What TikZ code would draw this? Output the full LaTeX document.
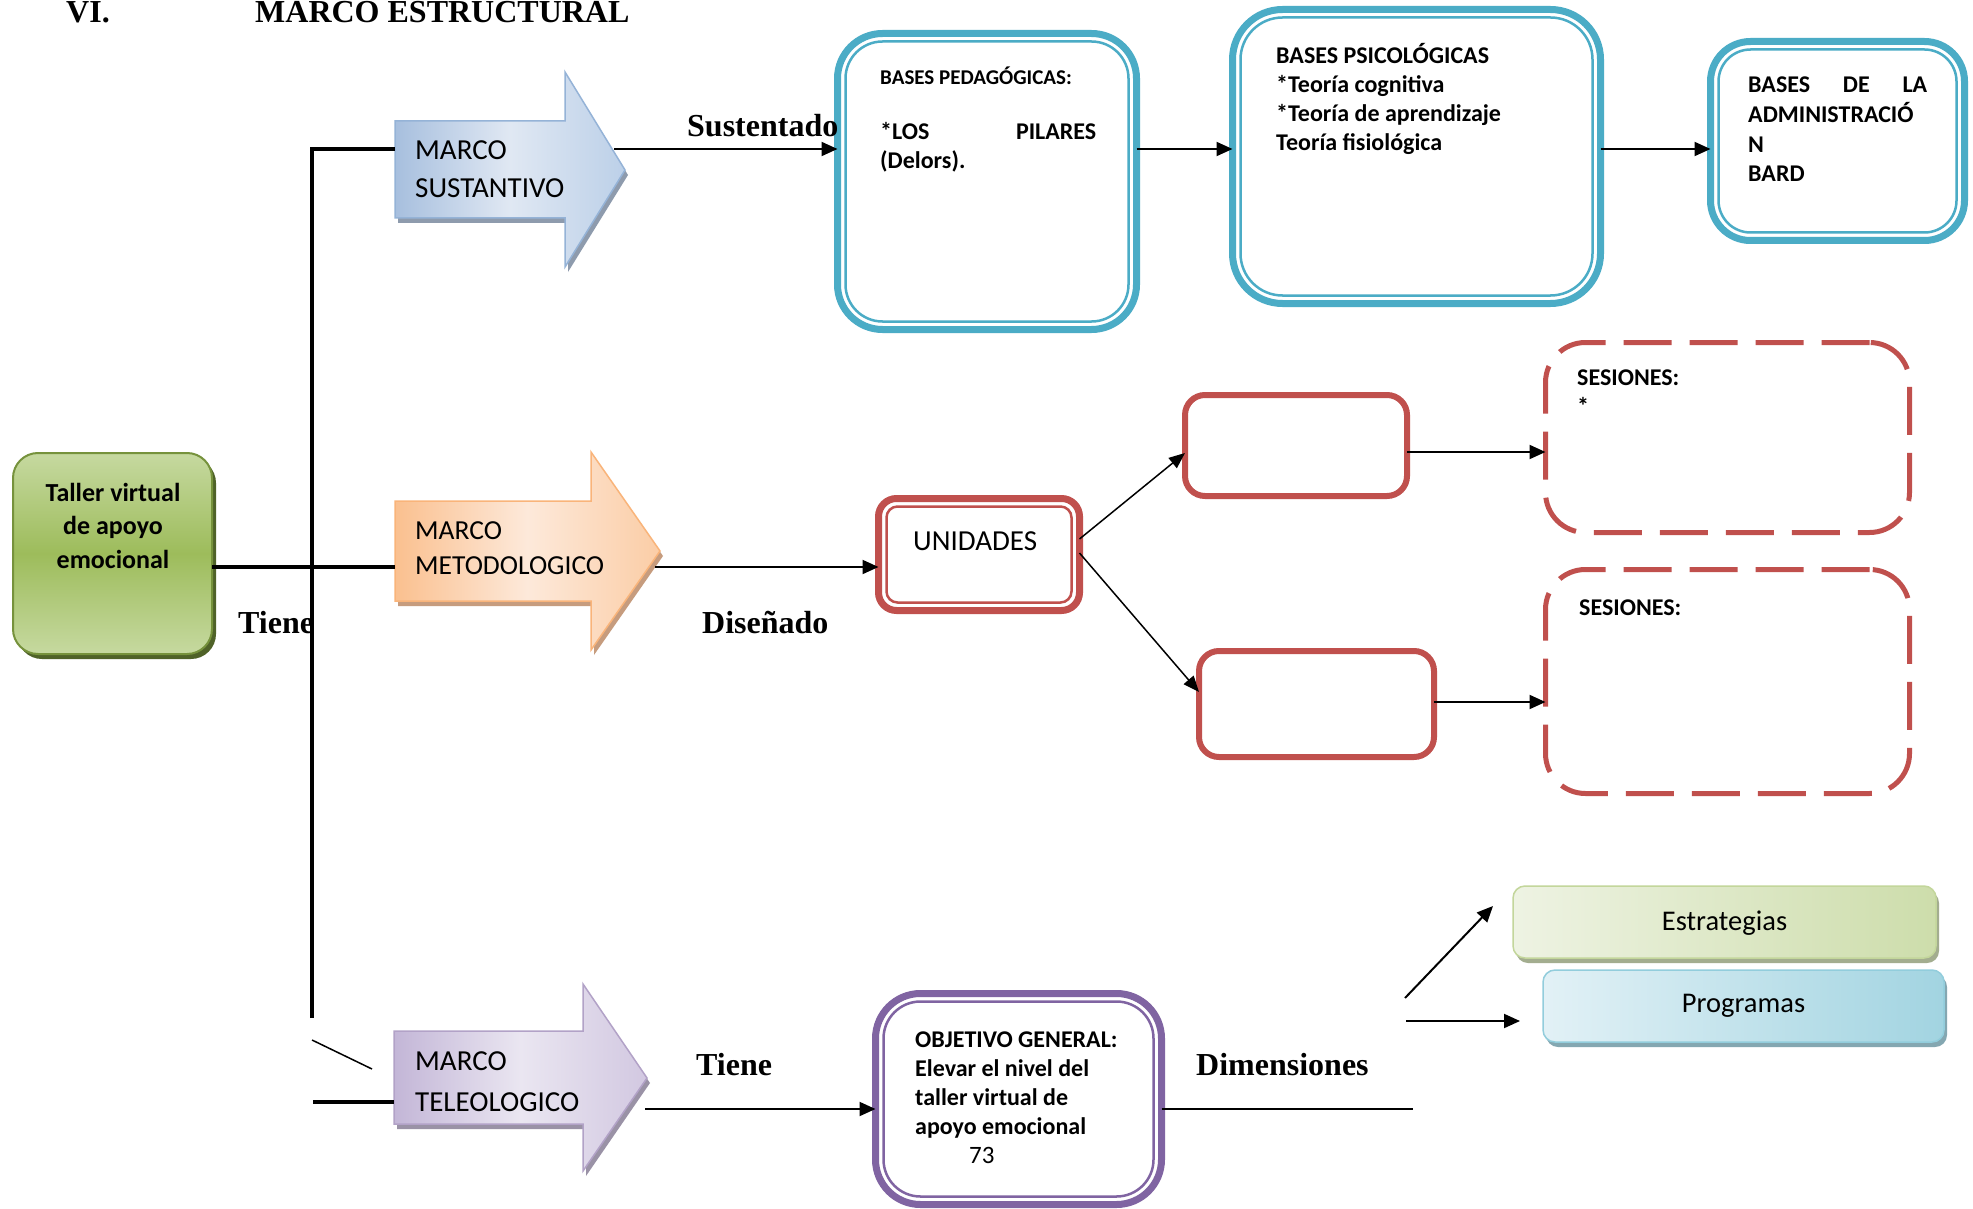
\documentclass[tikz,border=0pt]{standalone}
\usepackage{fontspec}
\setmainfont{Carlito}
\newfontfamily\tnr{Liberation Serif}
\usetikzlibrary{arrows.meta,shadows}
\definecolor{cTeal}{HTML}{4BACC6}
\definecolor{cRed}{HTML}{C0504D}
\definecolor{cPurp}{HTML}{8064A2}
\definecolor{bDark}{HTML}{A7BFDE}
\definecolor{bMid}{HTML}{BCD0E8}
\definecolor{bLight}{HTML}{E0E8F3}
\definecolor{bEdge}{HTML}{95B3D7}
\definecolor{bShad}{HTML}{8E9BAD}
\definecolor{oDark}{HTML}{FAC08F}
\definecolor{oMid}{HTML}{FBCDA6}
\definecolor{oLight}{HTML}{FDE9DA}
\definecolor{oEdge}{HTML}{F9B47A}
\definecolor{oShad}{HTML}{C69C7E}
\definecolor{pDark}{HTML}{C3B6D7}
\definecolor{pMid}{HTML}{D2C8E1}
\definecolor{pLight}{HTML}{EAE6F1}
\definecolor{pEdge}{HTML}{B2A2C7}
\definecolor{pShad}{HTML}{9A92A6}
\definecolor{gTop}{HTML}{C6D9A0}
\definecolor{gMid}{HTML}{9DBC5B}
\definecolor{gEdge}{HTML}{76923C}
\definecolor{gShad}{HTML}{4F6228}
\definecolor{eL}{HTML}{EEF3E3}
\definecolor{eR}{HTML}{CDDDAB}
\definecolor{eEdge}{HTML}{C3D69B}
\definecolor{eShad}{HTML}{A3AD8F}
\definecolor{prL}{HTML}{E2F1F6}
\definecolor{prR}{HTML}{A2D4E1}
\definecolor{prEdge}{HTML}{92CDDC}
\definecolor{prShad}{HTML}{84A7B1}
\newcommand\TxtLines[2]{\vtop{\baselineskip=#1\relax\lineskip=0pt\lineskiplimit=-100pt #2}}
\newcommand\CenLine[1]{\hbox to 0pt{\hss#1\hss}}
\tikzset{
  thickln/.style={line width=4.5pt},
  conn/.style={line width=2pt,-{Triangle[length=16pt,width=14pt]}},
  thinconn/.style={line width=1.5pt,-{Triangle[length=16pt,width=13pt]}},
  lbl/.style={font=\tnr\bfseries\fontsize{32}{38}\selectfont, anchor=base west, inner sep=0pt},
  boxtxt/.style={font=\bfseries\fontsize{24}{29}\selectfont, anchor=base west, inner sep=0pt},
  arrtxt/.style={font=\fontsize{29}{35}\selectfont, anchor=base west, inner sep=0pt},
  dblbox/.style={draw=#1, line width=7pt, inner sep=0pt, outer sep=0pt, fill=white},
  redbox/.style={draw=cRed, line width=6pt, inner sep=0pt, outer sep=0pt, rounded corners=20pt},
  sesbox/.style={draw=cRed, line width=5pt, dash pattern=on 48pt off 18pt, inner sep=0pt, outer sep=0pt, rounded corners=40pt},
  innerln/.style={draw=#1, line width=2.5pt},
}
\begin{document}
\begin{tikzpicture}[x=1pt,y=-1pt]
\useasboundingbox (0,0) rectangle (1973,1209);
\fill[white] (0,0) rectangle (1973,1209);

% title
\node[lbl] (vi) at (66,23) {VI.};
\node[lbl] (title) at (255,23) {MARCO ESTRUCTURAL};

% ---- arrow shapes
\path[draw=bEdge, line width=1.5pt, left color=bDark, right color=bMid, middle color=bLight,
  drop shadow={shadow xshift=3pt, shadow yshift=-5pt, fill=bShad, opacity=1}]
  (395,121) -- (565,121) -- (565,72) -- (625,170) -- (565,267) -- (565,218) -- (395,218) -- cycle;
\node[arrtxt] (sust) at (415,160) {\TxtLines{38pt}{\hbox{MARCO}\hbox{SUSTANTIVO}}};

\path[draw=oEdge, line width=1.5pt, left color=oDark, right color=oMid, middle color=oLight,
  drop shadow={shadow xshift=3pt, shadow yshift=-5pt, fill=oShad, opacity=1}]
  (395,501) -- (591,501) -- (591,452) -- (660,551) -- (591,650) -- (591,601) -- (395,601) -- cycle;
\node[arrtxt, font=\fontsize{27.5}{35}\selectfont] (meto) at (415,539) {\TxtLines{35pt}{\hbox{MARCO}\hbox{METODOLOGICO}}};

\path[draw=pEdge, line width=1.5pt, left color=pDark, right color=pMid, middle color=pLight,
  drop shadow={shadow xshift=3pt, shadow yshift=-5pt, fill=pShad, opacity=1}]
  (394,1031) -- (583,1031) -- (583,984) -- (647,1078) -- (583,1171) -- (583,1124) -- (394,1124) -- cycle;
\node[arrtxt] (tele) at (415,1070) {\TxtLines{41pt}{\hbox{MARCO}\hbox{TELEOLOGICO}}};

\coordinate (sustL) at (395,149);
\coordinate (sustR) at (614,149);
\coordinate (metL) at (395,567);
\coordinate (metR) at (655,567);
\coordinate (teleS) at (313,1102);
\coordinate (teleL) at (394,1102);
\coordinate (teleR) at (645,1109);
\coordinate (vbot) at (312,1018);
\coordinate (diagA) at (312,1040);
\coordinate (diagB) at (372,1069);

% ---- green start box
\node[draw=gEdge, line width=2pt, rounded corners=25pt, minimum width=199pt, minimum height=201pt,
  inner sep=0pt, outer sep=0pt, top color=gTop, bottom color=gTop, middle color=gMid,
  drop shadow={shadow xshift=4pt, shadow yshift=-5pt, fill=gShad, opacity=1}] (taller) at (112.5,553.5) {};
\node[font=\bfseries\fontsize{26}{33}\selectfont, anchor=base, inner sep=0pt] (tallerT) at (113,501)
  {\TxtLines{33.5pt}{\CenLine{Taller virtual}\CenLine{de apoyo}\CenLine{emocional}}};

% ---- thick tree lines
\draw[thickln] (vbot) |- (sustL);
\draw[thickln] (taller.east |- metL) -- (metL);
\draw[thickln] (teleS) -- (teleL);
\draw[line width=1.5pt] (diagA) -- (diagB);

% ---- teal boxes
\node[dblbox=cTeal, rounded corners=45pt, minimum width=299pt, minimum height=296pt] (ped) at (987,181.5) {};
\draw[innerln=cTeal, rounded corners=37pt] ([shift={(8pt,-8pt)}]ped.north west) rectangle ([shift={(-8pt,8pt)}]ped.south east);
\node[dblbox=cTeal, rounded corners=50pt, minimum width=368pt, minimum height=294pt] (psi) at (1416.5,156.5) {};
\draw[innerln=cTeal, rounded corners=42pt] ([shift={(8pt,-8pt)}]psi.north west) rectangle ([shift={(-8pt,8pt)}]psi.south east);
\node[dblbox=cTeal, rounded corners=40pt, minimum width=254pt, minimum height=199pt] (adm) at (1837.5,141) {};
\draw[innerln=cTeal, rounded corners=32pt] ([shift={(8pt,-8pt)}]adm.north west) rectangle ([shift={(-8pt,8pt)}]adm.south east);

\node[boxtxt, font=\bfseries\fontsize{21}{29}\selectfont] (pedT1) at (880,85) {BASES PEDAGÓGICAS:};
\node[boxtxt] (pedT2) at (880,140) {\TxtLines{29pt}{\hbox to 216pt{*LOS\hfill PILARES}\hbox{(Delors).}}};
\node[boxtxt] (psiT) at (1276,64) {\TxtLines{29pt}{\hbox{BASES PSICOLÓGICAS}\hbox{*Teoría cognitiva}\hbox{*Teoría de aprendizaje}\hbox{Teoría fisiológica}}};
\node[boxtxt] (admT) at (1748,93) {\TxtLines{29.6pt}{\hbox to 179pt{BASES\hfill DE\hfill LA}\hbox{ADMINISTRACIÓ}\hbox{N}\hbox{BARD}}};

% ---- red boxes
\node[dblbox=cRed, rounded corners=18pt, minimum width=201pt, minimum height=112pt] (uni) at (979,554.5) {};
\draw[innerln=cRed, rounded corners=11pt] ([shift={(8pt,-8pt)}]uni.north west) rectangle ([shift={(-8pt,8pt)}]uni.south east);
\node[arrtxt] (uniT) at (913,550) {UNIDADES};
\node[redbox, minimum width=222pt, minimum height=101pt] (red1) at (1296,445.5) {};
\node[redbox, minimum width=235pt, minimum height=106pt] (red2) at (1316.5,704) {};
\node[sesbox, minimum width=364pt, minimum height=190pt] (ses1) at (1727.5,437.5) {};
\node[sesbox, minimum width=364pt, minimum height=224pt] (ses2) at (1727.5,681.5) {};
\node[boxtxt] (ses1T) at (1577,385) {\TxtLines{29pt}{\hbox{SESIONES:}\hbox{*}}};
\node[boxtxt] (ses2T) at (1579,615) {SESIONES:};

% ---- purple objective box
\node[dblbox=cPurp, rounded corners=45pt, minimum width=286pt, minimum height=211pt] (obj) at (1018.5,1099) {};
\draw[innerln=cPurp, rounded corners=37pt] ([shift={(8pt,-8pt)}]obj.north west) rectangle ([shift={(-8pt,8pt)}]obj.south east);
\node[boxtxt] (objT) at (915,1047) {\TxtLines{29pt}{\hbox{OBJETIVO GENERAL:}\hbox{Elevar el nivel del}\hbox{taller virtual de}\hbox{apoyo emocional}\hbox{\hspace{54pt}\mdseries\fontsize{25}{29}\selectfont 73}}};

% ---- dimension boxes
\node[draw=eEdge, line width=1.5pt, rounded corners=12pt, minimum width=423pt, minimum height=72pt,
  inner sep=0pt, outer sep=0pt, left color=eL, right color=eR,
  drop shadow={shadow xshift=3pt, shadow yshift=-5pt, fill=eShad, opacity=1},
  font=\fontsize{28.5}{34}\selectfont, text height=20pt, text depth=4pt] (estr) at (1724.5,922) {Estrategias};
\node[draw=prEdge, line width=1.5pt, rounded corners=12pt, minimum width=401pt, minimum height=72pt,
  inner sep=0pt, outer sep=0pt, left color=prL, right color=prR,
  drop shadow={shadow xshift=3pt, shadow yshift=-5pt, fill=prShad, opacity=1},
  font=\fontsize{28.5}{34}\selectfont, text height=19pt, text depth=7pt] (prog) at (1743.5,1006) {Programas};

\coordinate (dimEnd) at (1413,1109);
\coordinate (dA) at (1405,998);
\coordinate (dB) at (1493,906);
\coordinate (dC) at (1406,1021);
\coordinate (dD) at (1520,1021);

% ---- connectors
\draw[conn] (sustR) -- (ped.west |- sustR);
\draw[conn] (ped.east |- sustR) -- (psi.west |- sustR);
\draw[conn] (psi.east |- sustR) -- (adm.west |- sustR);
\draw[conn] (metR) -- (uni.west |- metR);
\draw[thinconn] ([yshift=15.5pt]uni.east) -- ([yshift=-7.5pt]red1.west);
\draw[thinconn] ([yshift=1.5pt]uni.east) -- ([yshift=12pt]red2.west);
\draw[conn] ([yshift=-6.5pt]red1.east) -- ([yshift=-6.5pt]red1.east -| ses1.west);
\draw[conn] ([yshift=2pt]red2.east) -- ([yshift=2pt]red2.east -| ses2.west);
\draw[conn] (teleR) -- (obj.west |- teleR);
\draw[line width=2pt] (obj.east |- teleR) -- (dimEnd);
\draw[conn] (dA) -- (dB);
\draw[conn] (dC) -- (dD);

% ---- labels
\node[lbl] (lSus) at (687,137) {Sustentado};
\node[lbl] (lTiene1) at (238,633) {Tiene};
\node[lbl] (lDis) at (702,633) {Diseñado};
\node[lbl] (lTiene2) at (696,1075) {Tiene};
\node[lbl] (lDim) at (1196,1075) {Dimensiones};
\end{tikzpicture}
\end{document}
